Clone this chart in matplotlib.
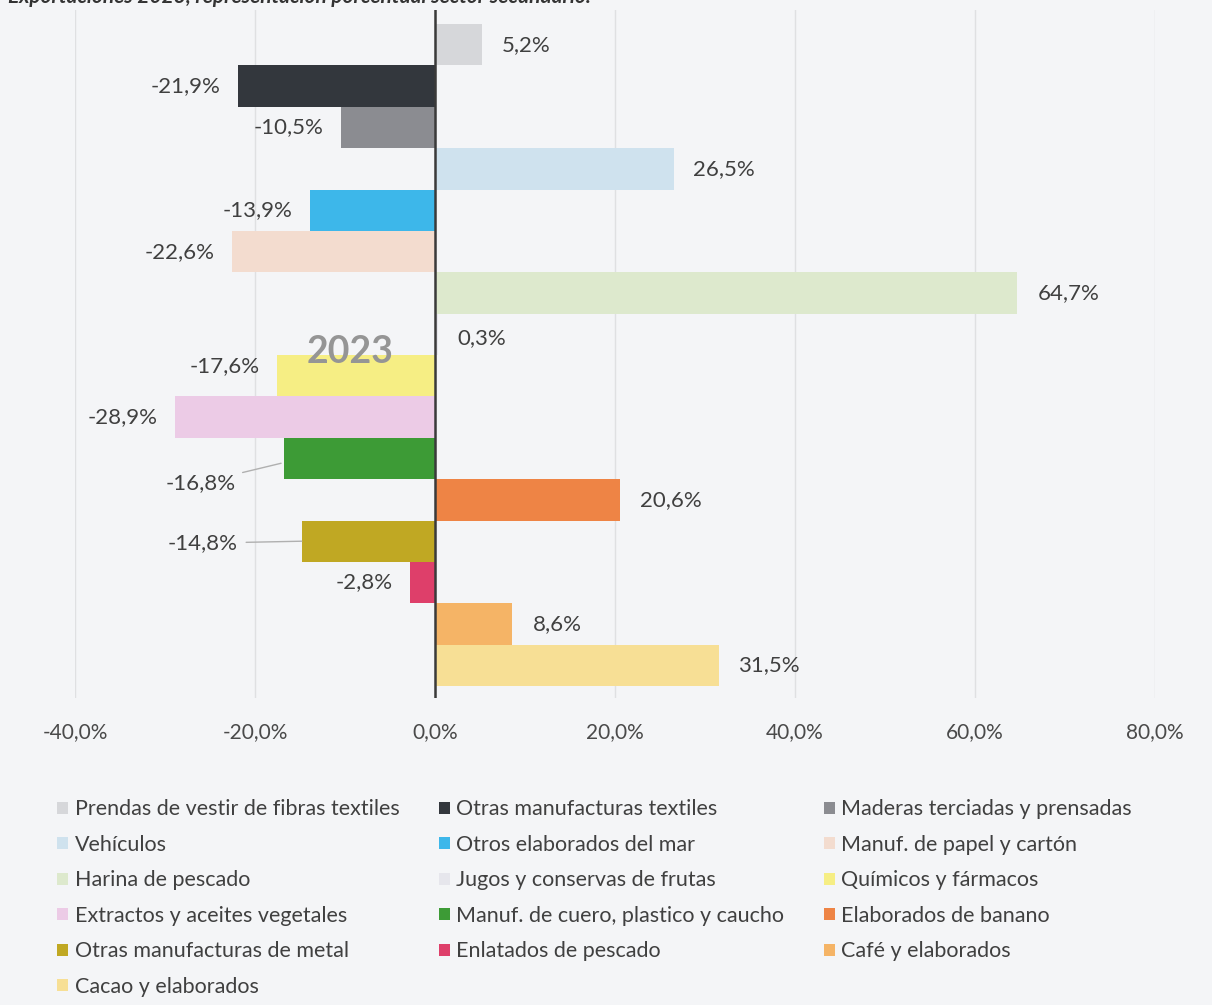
import numpy as np
import matplotlib.pyplot as plt
from matplotlib.patches import Patch

plt.rcParams['font.family'] = ['Lato', 'DejaVu Sans']

# categories (top to bottom, same order as the legend)
categorias = [
    "Prendas de vestir de fibras textiles",
    "Otras manufacturas textiles",
    "Maderas terciadas y prensadas",
    "Vehículos",
    "Otros elaborados del mar",
    "Manuf. de papel y cartón",
    "Harina de pescado",
    "Jugos y conservas de frutas",
    "Químicos y fármacos",
    "Extractos y aceites vegetales",
    "Manuf. de cuero, plastico y caucho",
    "Elaborados de banano",
    "Otras manufacturas de metal",
    "Enlatados de pescado",
    "Café y elaborados",
    "Cacao y elaborados",
]

variacion = [5.2, -21.9, -10.5, 26.5, -13.9, -22.6, 64.7, 0.3,
             -17.6, -28.9, -16.8, 20.6, -14.8, -2.8, 8.6, 31.5]

colores = ["#d6d7da", "#33373d", "#8b8c91", "#cfe2ee", "#3db7ea", "#f3dccf",
           "#dde9cd", "#e6e6ec", "#f6ee84", "#eccbe6", "#3d9b36", "#ee8445",
           "#c0a823", "#de3f6a", "#f5b466", "#f7df95"]

x_ticks = [-40, -20, 0, 20, 40, 60, 80]

bg = "#f4f5f7"
txt = "#404040"

def fmt(v):
    return f"{v:.1f}".replace(".", ",") + "%"

fig = plt.figure(figsize=(12.12, 10.05), dpi=100, facecolor=bg)
ax = fig.add_axes([75/1212, 1 - 698/1005, 1080/1212, 688/1005])
ax.set_facecolor(bg)

y = np.arange(len(categorias))
bars = ax.barh(y, variacion, height=1.0, color=colores, zorder=2)

ax.set_xlim(-40, 80)
ax.set_ylim(15.5 + 0.29, -0.5 - 0.34)
ax.set_xticks(x_ticks)
ax.set_xticklabels([fmt(t) for t in x_ticks], fontsize=15, color="#4a4a4a")
ax.tick_params(axis='x', length=0, pad=17)
ax.set_yticks([])
for s in ax.spines.values():
    s.set_visible(False)
ax.grid(axis='x', color="#dfe0e2", linewidth=1, zorder=0)
ax.axvline(0, color="#3a3a3a", linewidth=1.8, zorder=3)

# data labels
lab_fs = 16
for i, v in enumerate(variacion):
    if i == 10:
        ax.annotate(fmt(v), xy=(v, i + 0.1), xytext=(-48, -20),
                    textcoords='offset pixels', ha='right', va='center',
                    fontsize=lab_fs, color=txt,
                    arrowprops=dict(arrowstyle='-', color="#b0b0b0", lw=1,
                                    shrinkA=3, shrinkB=2))
    elif i == 12:
        ax.annotate(fmt(v), xy=(v, i), xytext=(-64, -2),
                    textcoords='offset pixels', ha='right', va='center',
                    fontsize=lab_fs, color=txt,
                    arrowprops=dict(arrowstyle='-', color="#b0b0b0", lw=1,
                                    shrinkA=4, shrinkB=0))
    else:
        dx = 20 if v >= 0 else -17
        dy = 0
        if i == 7:
            dy = -4
        if i == 8:
            dy = 10
        ax.annotate(fmt(v), xy=(v, i), xytext=(dx, dy),
                    textcoords='offset pixels',
                    ha='left' if v >= 0 else 'right', va='center',
                    fontsize=lab_fs, color=txt)

ax.text(-9.4, 7.42, "2023", fontsize=27, fontweight='bold', color="#959595",
        ha='center', va='center', zorder=4)

# caption cut by the top edge
fig.text(8/1212, 1 + 3/1005,
         "Exportaciones 2023, representación porcentual sector secundario.",
         fontsize=15, style='italic', fontweight='bold', color="#333333",
         ha='left', va='center')

# legend: row-major order in 3 columns
handles = [Patch(facecolor=c, edgecolor='none') for c in colores]
orden = [0, 3, 6, 9, 12, 15, 1, 4, 7, 10, 13, 2, 5, 8, 11, 14]
fig.legend([handles[k] for k in orden], [categorias[k] for k in orden],
           ncol=3, loc='upper left', bbox_to_anchor=(38/1212, 1 - 780/1005),
           frameon=False, fontsize=15.5, labelcolor=txt,
           handlelength=0.5, handleheight=0.5, handletextpad=0.3,
           columnspacing=1.85, labelspacing=0.72)

fig.savefig("out.png", dpi=100, facecolor=bg)
